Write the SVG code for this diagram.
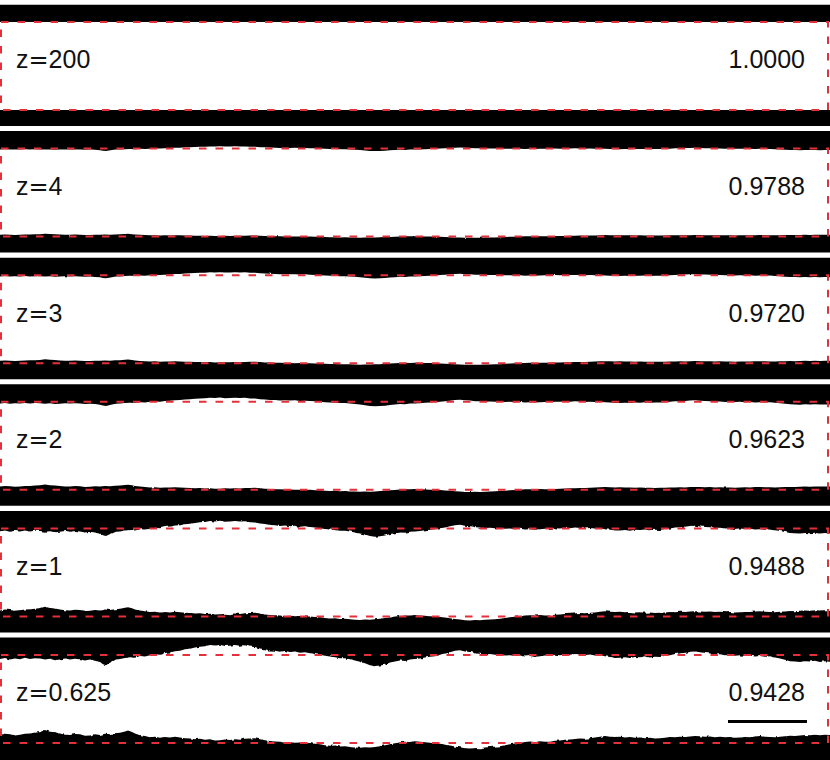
<svg xmlns="http://www.w3.org/2000/svg" width="830" height="760" viewBox="0 0 830 760">
<style>
.band{fill:#000}
.frame{fill:none;stroke:#e3303a;stroke-width:2;stroke-dasharray:7.5 9}
.lbl{font-family:"Liberation Sans",Arial,Helvetica,sans-serif;font-size:25px;fill:#111}
.eq{font-family:"DejaVu Sans",sans-serif;font-size:24px}
.val{text-anchor:end}
</style>
<defs>
<filter id="rough1" filterUnits="userSpaceOnUse" x="-10" y="-10" width="850" height="780">
  <feTurbulence type="fractalNoise" baseFrequency="0.25 0.06" numOctaves="2" seed="3" result="n"/>
  <feDisplacementMap in="SourceGraphic" in2="n" scale="1.6" xChannelSelector="G" yChannelSelector="R"/>
</filter>
<filter id="rough2" filterUnits="userSpaceOnUse" x="-10" y="-10" width="850" height="780">
  <feTurbulence type="fractalNoise" baseFrequency="0.2 0.05" numOctaves="2" seed="7" result="n"/>
  <feDisplacementMap in="SourceGraphic" in2="n" scale="3" xChannelSelector="G" yChannelSelector="R"/>
</filter>
<path id="topW" fill="#fff" d="M-5,1000 L-5,3 L0,3 L5,2.2 L10,3.4 L15,2.6 L20,3.1 L25,2.1 L30,3.0 L35,2.4 L40,2.6 L45,3.4 L50,2.8 L55,3.9 L60,3.4 L65,2.6 L70,3.3 L75,2.7 L80,3.1 L85,4.0 L90,3.4 L95,4.2 L100,5.2 L103,6.8 L106,7.6 L109,6.2 L112,5.0 L116,3.4 L120,3.0 L125,2.2 L130,1.6 L135,2.0 L140,0.8 L145,1.1 L150,0.1 L155,-0.6 L160,-0.2 L165,-1.4 L170,-1.9 L175,-2.8 L180,-3.1 L185,-4.2 L190,-4.6 L195,-5.5 L200,-6.1 L205,-6.4 L210,-7.4 L215,-7.0 L220,-7.6 L225,-6.6 L230,-6.8 L235,-7.5 L240,-6.9 L245,-7.2 L250,-6.2 L255,-5.9 L260,-4.8 L265,-4.3 L270,-3.4 L275,-3.2 L280,-2.4 L285,-3.0 L290,-2.2 L295,-2.6 L300,-1.6 L305,-2.1 L310,-1.3 L315,-0.8 L320,-0.1 L325,0.6 L330,1.2 L335,1.6 L340,2.4 L345,2.4 L350,3.2 L355,4.1 L360,5.0 L365,6.2 L370,7.6 L375,8.3 L380,7.8 L385,7.2 L390,5.6 L395,4.9 L400,4.1 L405,4.4 L410,3.3 L415,3.0 L420,2.6 L425,1.8 L430,1.3 L435,0.9 L440,-0.2 L445,-1.0 L450,-2.1 L455,-3.2 L460,-3.6 L465,-2.6 L470,-2.2 L475,-1.2 L480,-1.0 L485,-0.3 L490,-0.7 L495,-0.2 L500,-0.4 L505,0.3 L510,0.1 L515,0.8 L520,0.4 L525,1.2 L530,0.8 L535,1.4 L540,0.9 L545,0.3 L550,0.5 L555,-0.2 L560,0.1 L565,-0.6 L570,-0.2 L575,-0.8 L580,-0.4 L585,0.2 L590,-0.3 L595,0.4 L600,0.1 L605,0.9 L610,1.4 L615,2.2 L620,2.0 L625,1.6 L630,2.3 L635,1.4 L640,1.6 L645,1.0 L650,1.8 L655,1.3 L660,1.5 L665,0.6 L670,0.1 L675,-0.8 L680,-1.2 L685,-1.6 L690,-2.4 L695,-2.6 L700,-2.0 L705,-1.5 L710,-1.1 L715,-0.4 L720,-0.6 L725,0.2 L730,-0.1 L735,0.5 L740,0.1 L745,0.7 L750,0.4 L755,1.1 L760,0.8 L765,1.3 L770,1.0 L775,1.8 L780,2.6 L785,3.6 L790,4.6 L795,4.8 L800,5.2 L805,4.6 L810,4.9 L815,4.3 L820,5.1 L825,4.7 L830,5.0 L835,5.0 L835,1000 Z"/>
<path id="botB" fill="#000" d="M-5,1000 L-5,-6 L0,-6.0 L5,-6.8 L10,-6.4 L15,-5.6 L20,-6.2 L25,-6.9 L30,-7.1 L35,-7.6 L40,-8.2 L45,-9.6 L50,-8.4 L55,-7.9 L60,-7.0 L65,-6.2 L70,-5.9 L75,-6.7 L80,-6.4 L85,-5.3 L90,-5.6 L95,-6.4 L100,-5.9 L105,-6.8 L110,-6.4 L115,-7.2 L120,-7.6 L125,-8.6 L128,-9.2 L132,-8.1 L135,-7.0 L140,-5.8 L145,-5.1 L150,-4.3 L155,-4.6 L160,-3.9 L165,-4.4 L170,-4.0 L175,-4.7 L180,-4.1 L185,-3.6 L190,-3.4 L195,-2.8 L200,-3.1 L205,-2.4 L210,-2.7 L215,-1.9 L220,-2.1 L225,-2.6 L230,-2.2 L235,-2.8 L240,-2.5 L245,-3.1 L250,-3.4 L255,-3.6 L260,-2.8 L265,-2.0 L270,-1.5 L275,-1.1 L280,-0.9 L285,-0.4 L290,-0.6 L295,-0.1 L300,-0.3 L305,0.2 L310,0.0 L315,0.6 L320,0.9 L325,1.6 L330,2.0 L335,1.9 L340,2.6 L345,2.4 L350,2.9 L355,3.3 L360,3.6 L365,3.2 L370,3.4 L375,2.9 L380,2.4 L385,1.6 L390,1.0 L395,0.2 L400,-0.4 L405,-1.0 L410,-0.8 L415,-1.3 L420,-1.0 L425,-0.6 L430,-0.2 L435,0.1 L440,0.5 L445,1.2 L450,1.8 L455,2.6 L460,3.1 L465,3.8 L470,4.1 L475,3.7 L480,3.9 L485,3.4 L490,3.0 L495,2.8 L500,2.4 L505,1.6 L510,0.9 L515,0.4 L520,-0.2 L525,-0.8 L530,-1.1 L535,-0.8 L540,-1.3 L545,-0.9 L550,-1.0 L555,-1.6 L560,-1.9 L565,-2.4 L570,-2.6 L575,-2.9 L580,-3.3 L585,-3.1 L590,-3.6 L595,-4.0 L600,-4.6 L605,-5.1 L610,-4.7 L615,-4.4 L620,-4.6 L625,-4.1 L630,-4.4 L635,-3.8 L640,-4.1 L645,-3.6 L650,-3.9 L655,-3.4 L660,-3.6 L665,-3.9 L670,-4.4 L675,-4.2 L680,-4.6 L685,-4.4 L690,-4.9 L695,-5.2 L700,-5.0 L705,-4.6 L710,-4.9 L715,-4.3 L720,-4.6 L725,-4.2 L730,-4.4 L735,-3.9 L740,-4.1 L745,-4.5 L750,-4.3 L755,-4.9 L760,-5.1 L765,-4.7 L770,-4.5 L775,-4.2 L780,-4.6 L785,-5.0 L790,-5.3 L795,-5.1 L800,-5.6 L805,-5.9 L810,-5.7 L815,-6.1 L820,-5.8 L825,-6.2 L830,-6.0 L835,-6.0 L835,1000 Z"/>
<clipPath id="c1"><rect x="0" y="4.5" width="830" height="121.5"/></clipPath>
<clipPath id="c2"><rect x="0" y="131.1" width="830" height="121.5"/></clipPath>
<clipPath id="c3"><rect x="0" y="257.7" width="830" height="121.5"/></clipPath>
<clipPath id="c4"><rect x="0" y="384.3" width="830" height="121.5"/></clipPath>
<clipPath id="c5"><rect x="0" y="510.9" width="830" height="121.5"/></clipPath>
<clipPath id="c6"><rect x="0" y="637.5" width="830" height="122.5"/></clipPath>
</defs>
<rect x="0" y="0" width="830" height="760" fill="#fff"/>

<g id="strip-z200">
  <g clip-path="url(#c1)">
    <rect class="band" x="0" y="4.5" width="830" height="121.5"/>
    <rect x="0" y="22" width="830" height="88" fill="#fff"/>
  </g>
  <rect class="frame" x="1" y="22" width="827" height="88"/>
  <text class="lbl" x="16" y="68.3">z<tspan class="eq">=</tspan>200</text>
  <text class="lbl val" x="805" y="68.3">1.0000</text>
</g>

<g id="strip-z4">
  <g clip-path="url(#c2)">
    <g filter="url(#rough1)">
      <rect class="band" x="-10" y="121.1" width="850" height="141.5"/>
      <use href="#topW" transform="translate(0,148.6) scale(1,0.3)"/>
      <use href="#botB" transform="translate(0,236.6) scale(1,0.3)"/>
    </g>
  </g>
  <rect class="frame" x="1" y="148.6" width="827" height="88"/>
  <text class="lbl" x="16" y="194.9">z<tspan class="eq">=</tspan>4</text>
  <text class="lbl val" x="805" y="194.9">0.9788</text>
</g>

<g id="strip-z3">
  <g clip-path="url(#c3)">
    <g filter="url(#rough1)">
      <rect class="band" x="-10" y="247.7" width="850" height="141.5"/>
      <use href="#topW" transform="translate(0,275.2) scale(1,0.4)"/>
      <use href="#botB" transform="translate(0,363.2) scale(1,0.4)"/>
    </g>
  </g>
  <rect class="frame" x="1" y="275.2" width="827" height="88"/>
  <text class="lbl" x="16" y="321.5">z<tspan class="eq">=</tspan>3</text>
  <text class="lbl val" x="805" y="321.5">0.9720</text>
</g>

<g id="strip-z2">
  <g clip-path="url(#c4)">
    <g filter="url(#rough1)">
      <rect class="band" x="-10" y="374.3" width="850" height="141.5"/>
      <use href="#topW" transform="translate(0,401.8) scale(1,0.55)"/>
      <use href="#botB" transform="translate(0,489.8) scale(1,0.55)"/>
    </g>
  </g>
  <rect class="frame" x="1" y="401.8" width="827" height="88"/>
  <text class="lbl" x="16" y="448.1">z<tspan class="eq">=</tspan>2</text>
  <text class="lbl val" x="805" y="448.1">0.9623</text>
</g>

<g id="strip-z1">
  <g clip-path="url(#c5)">
    <g filter="url(#rough2)">
      <rect class="band" x="-10" y="500.9" width="850" height="141.5"/>
      <use href="#topW" transform="translate(0,528.4) scale(1,1)"/>
      <use href="#botB" transform="translate(0,616.4) scale(1,1)"/>
    </g>
  </g>
  <rect class="frame" x="1" y="528.4" width="827" height="88"/>
  <text class="lbl" x="16" y="574.7">z<tspan class="eq">=</tspan>1</text>
  <text class="lbl val" x="805" y="574.7">0.9488</text>
</g>

<g id="strip-z0625">
  <g clip-path="url(#c6)">
    <g filter="url(#rough2)">
      <rect class="band" x="-10" y="627.5" width="850" height="142.5"/>
      <use href="#topW" transform="translate(0,655) scale(1,1.35)"/>
      <use href="#botB" transform="translate(0,743) scale(1,1.35)"/>
    </g>
  </g>
  <rect class="frame" x="1" y="655" width="827" height="88"/>
  <text class="lbl" x="16" y="701.3">z<tspan class="eq">=</tspan>0.625</text>
  <text class="lbl val" x="805" y="701.3">0.9428</text>
  <line id="scalebar" x1="728" y1="721.5" x2="807" y2="721.5" stroke="#000" stroke-width="3"/>
</g>
</svg>
